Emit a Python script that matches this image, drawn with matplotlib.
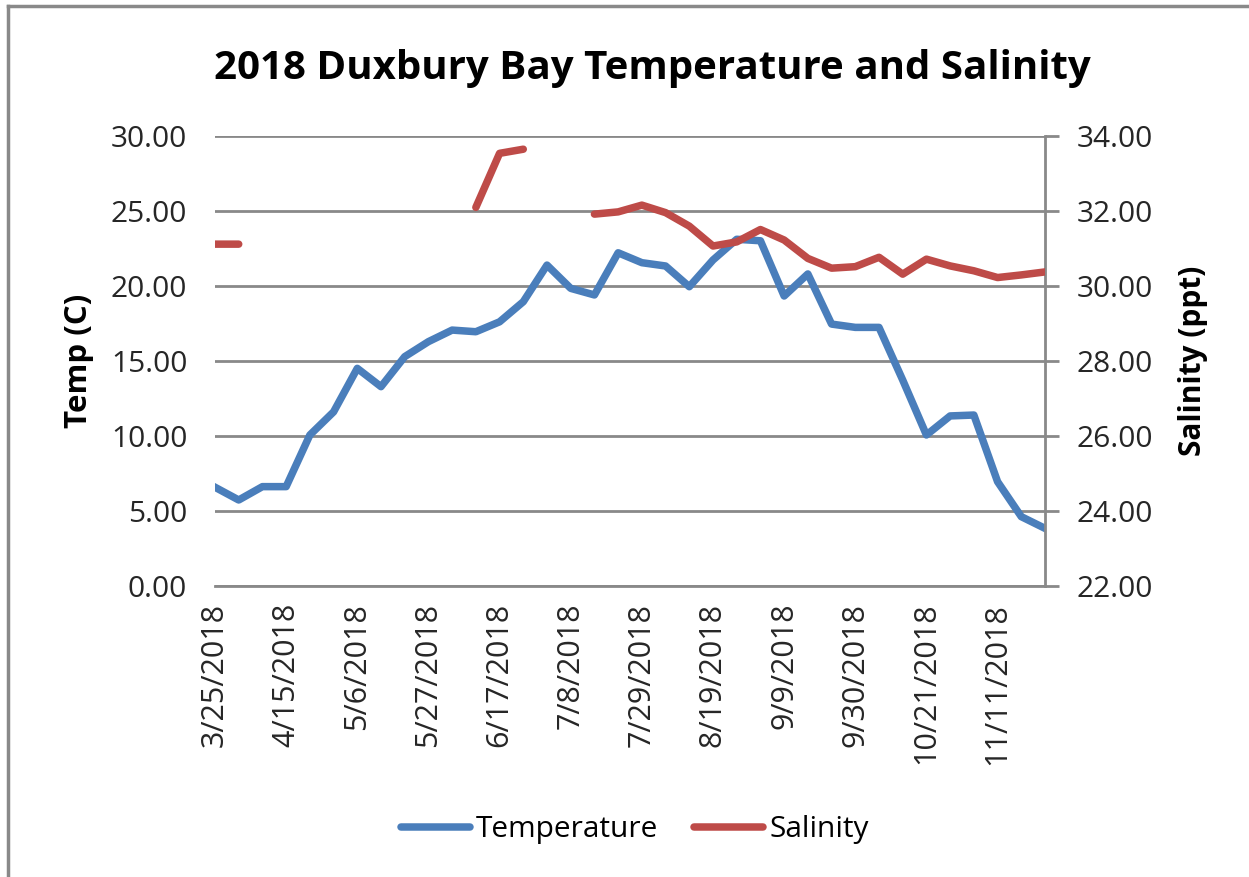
import numpy as np
import pandas as pd
import matplotlib
matplotlib.use("Agg")
import matplotlib.pyplot as plt
from matplotlib.lines import Line2D

plt.rcParams['font.family'] = ['Open Sans', 'DejaVu Sans']

# weekly samples, 3/25/2018 .. 11/25/2018
dates = pd.date_range("2018-03-25", periods=36, freq="7D")

temperature = [6.58, 5.73, 6.62, 6.62, 10.06, 11.6, 14.5, 13.28, 15.28, 16.28,
               17.05, 16.94, 17.6, 18.94, 21.38, 19.83, 19.39, 22.2, 21.54, 21.32,
               19.94, 21.72, 23.1, 23.0, 19.32, 20.79, 17.45, 17.23, 17.23, 13.72,
               10.06, 11.33, 11.39, 6.95, 4.62, 3.84]

nan = np.nan
salinity = [31.11, 31.11, nan, nan, nan, nan, nan, nan, nan, nan,
            nan, 32.09, 33.53, 33.64, nan, nan, 31.91, 31.97, 32.15, 31.95,
            31.59, 31.06, 31.17, 31.5, 31.22, 30.73, 30.47, 30.51, 30.76, 30.31,
            30.71, 30.53, 30.4, 30.22, 30.29, 30.37]

tick_idx = list(range(0, 36, 3))
tick_labels = [f"{d.month}/{d.day}/{d.year}" for d in dates[tick_idx]]

blue = "#4A7EBB"
red = "#BE4B48"
grid_c = "#898989"

fig = plt.figure(figsize=(12.49, 8.77), dpi=100)
ax = fig.add_axes([215 / 1249, 1 - 586 / 877, 830 / 1249, (586 - 135.7) / 877])
ax2 = ax.twinx()

x = np.arange(len(dates))
ax.plot(x, temperature, color=blue, lw=5.4, solid_joinstyle="round", zorder=3)
ax2.plot(x, salinity, color=red, lw=5.4, solid_joinstyle="round",
         solid_capstyle="round", zorder=3)

ax.set_xlim(0, 35)
ax.set_ylim(0, 30)
ax.set_yticks(np.arange(0, 31, 5))
ax.set_yticklabels([f"{v:.2f}" for v in np.arange(0, 31, 5)])
ax2.set_ylim(22, 34)
ax2.set_yticks(np.arange(22, 35, 2))
ax2.set_yticklabels([f"{v:.2f}" for v in np.arange(22, 35, 2)])

ax.set_xticks(tick_idx)
ax.set_xticklabels(tick_labels, rotation=90, fontsize=22, color="#262626")
ax.tick_params(axis="x", length=0, pad=12)
ax.tick_params(axis="y", length=0, labelsize=21.5, labelcolor="#262626", pad=20)
ax2.tick_params(axis="y", length=10, width=2, color=grid_c, labelsize=21.5,
                labelcolor="#262626", pad=13)

ax.yaxis.grid(True, color=grid_c, lw=2)
ax.set_axisbelow(True)
for sp in ["top", "left"]:
    ax.spines[sp].set_visible(False)
    ax2.spines[sp].set_visible(False)
ax.spines["right"].set_visible(False)
ax2.spines["right"].set_color(grid_c)
ax2.spines["right"].set_linewidth(2)
ax.spines["bottom"].set_color(grid_c)
ax.spines["bottom"].set_linewidth(2)
ax2.spines["bottom"].set_visible(False)

ax.set_ylabel("Temp (C)", fontsize=22.5, fontweight="bold", labelpad=12)
ax2.set_ylabel("Salinity (ppt)", fontsize=21.5, fontweight="bold", labelpad=18)

fig.text(0.522, 1 - 68 / 877, "2018 Duxbury Bay Temperature and Salinity",
         ha="center", va="center", fontsize=29, fontweight="bold")

handles = [Line2D([], [], color=blue, lw=5.4, solid_capstyle="round"),
           Line2D([], [], color=red, lw=5.4, solid_capstyle="round")]
fig.legend(handles, ["Temperature", "Salinity"], loc="center",
           bbox_to_anchor=(635 / 1249, 1 - 830 / 877), ncol=2, frameon=False,
           fontsize=21.5, handlelength=2.3, handletextpad=0.2, columnspacing=1.2)

# chart frame (only left and top edges are inside the crop)
fig.add_artist(Line2D([8 / 1249, 8 / 1249], [0, 1 - 6 / 877], color=grid_c, lw=2.5,
                      transform=fig.transFigure))
fig.add_artist(Line2D([8 / 1249, 1], [1 - 6 / 877, 1 - 6 / 877], color=grid_c, lw=2.5,
                      transform=fig.transFigure))

fig.savefig("out.png", dpi=100)
